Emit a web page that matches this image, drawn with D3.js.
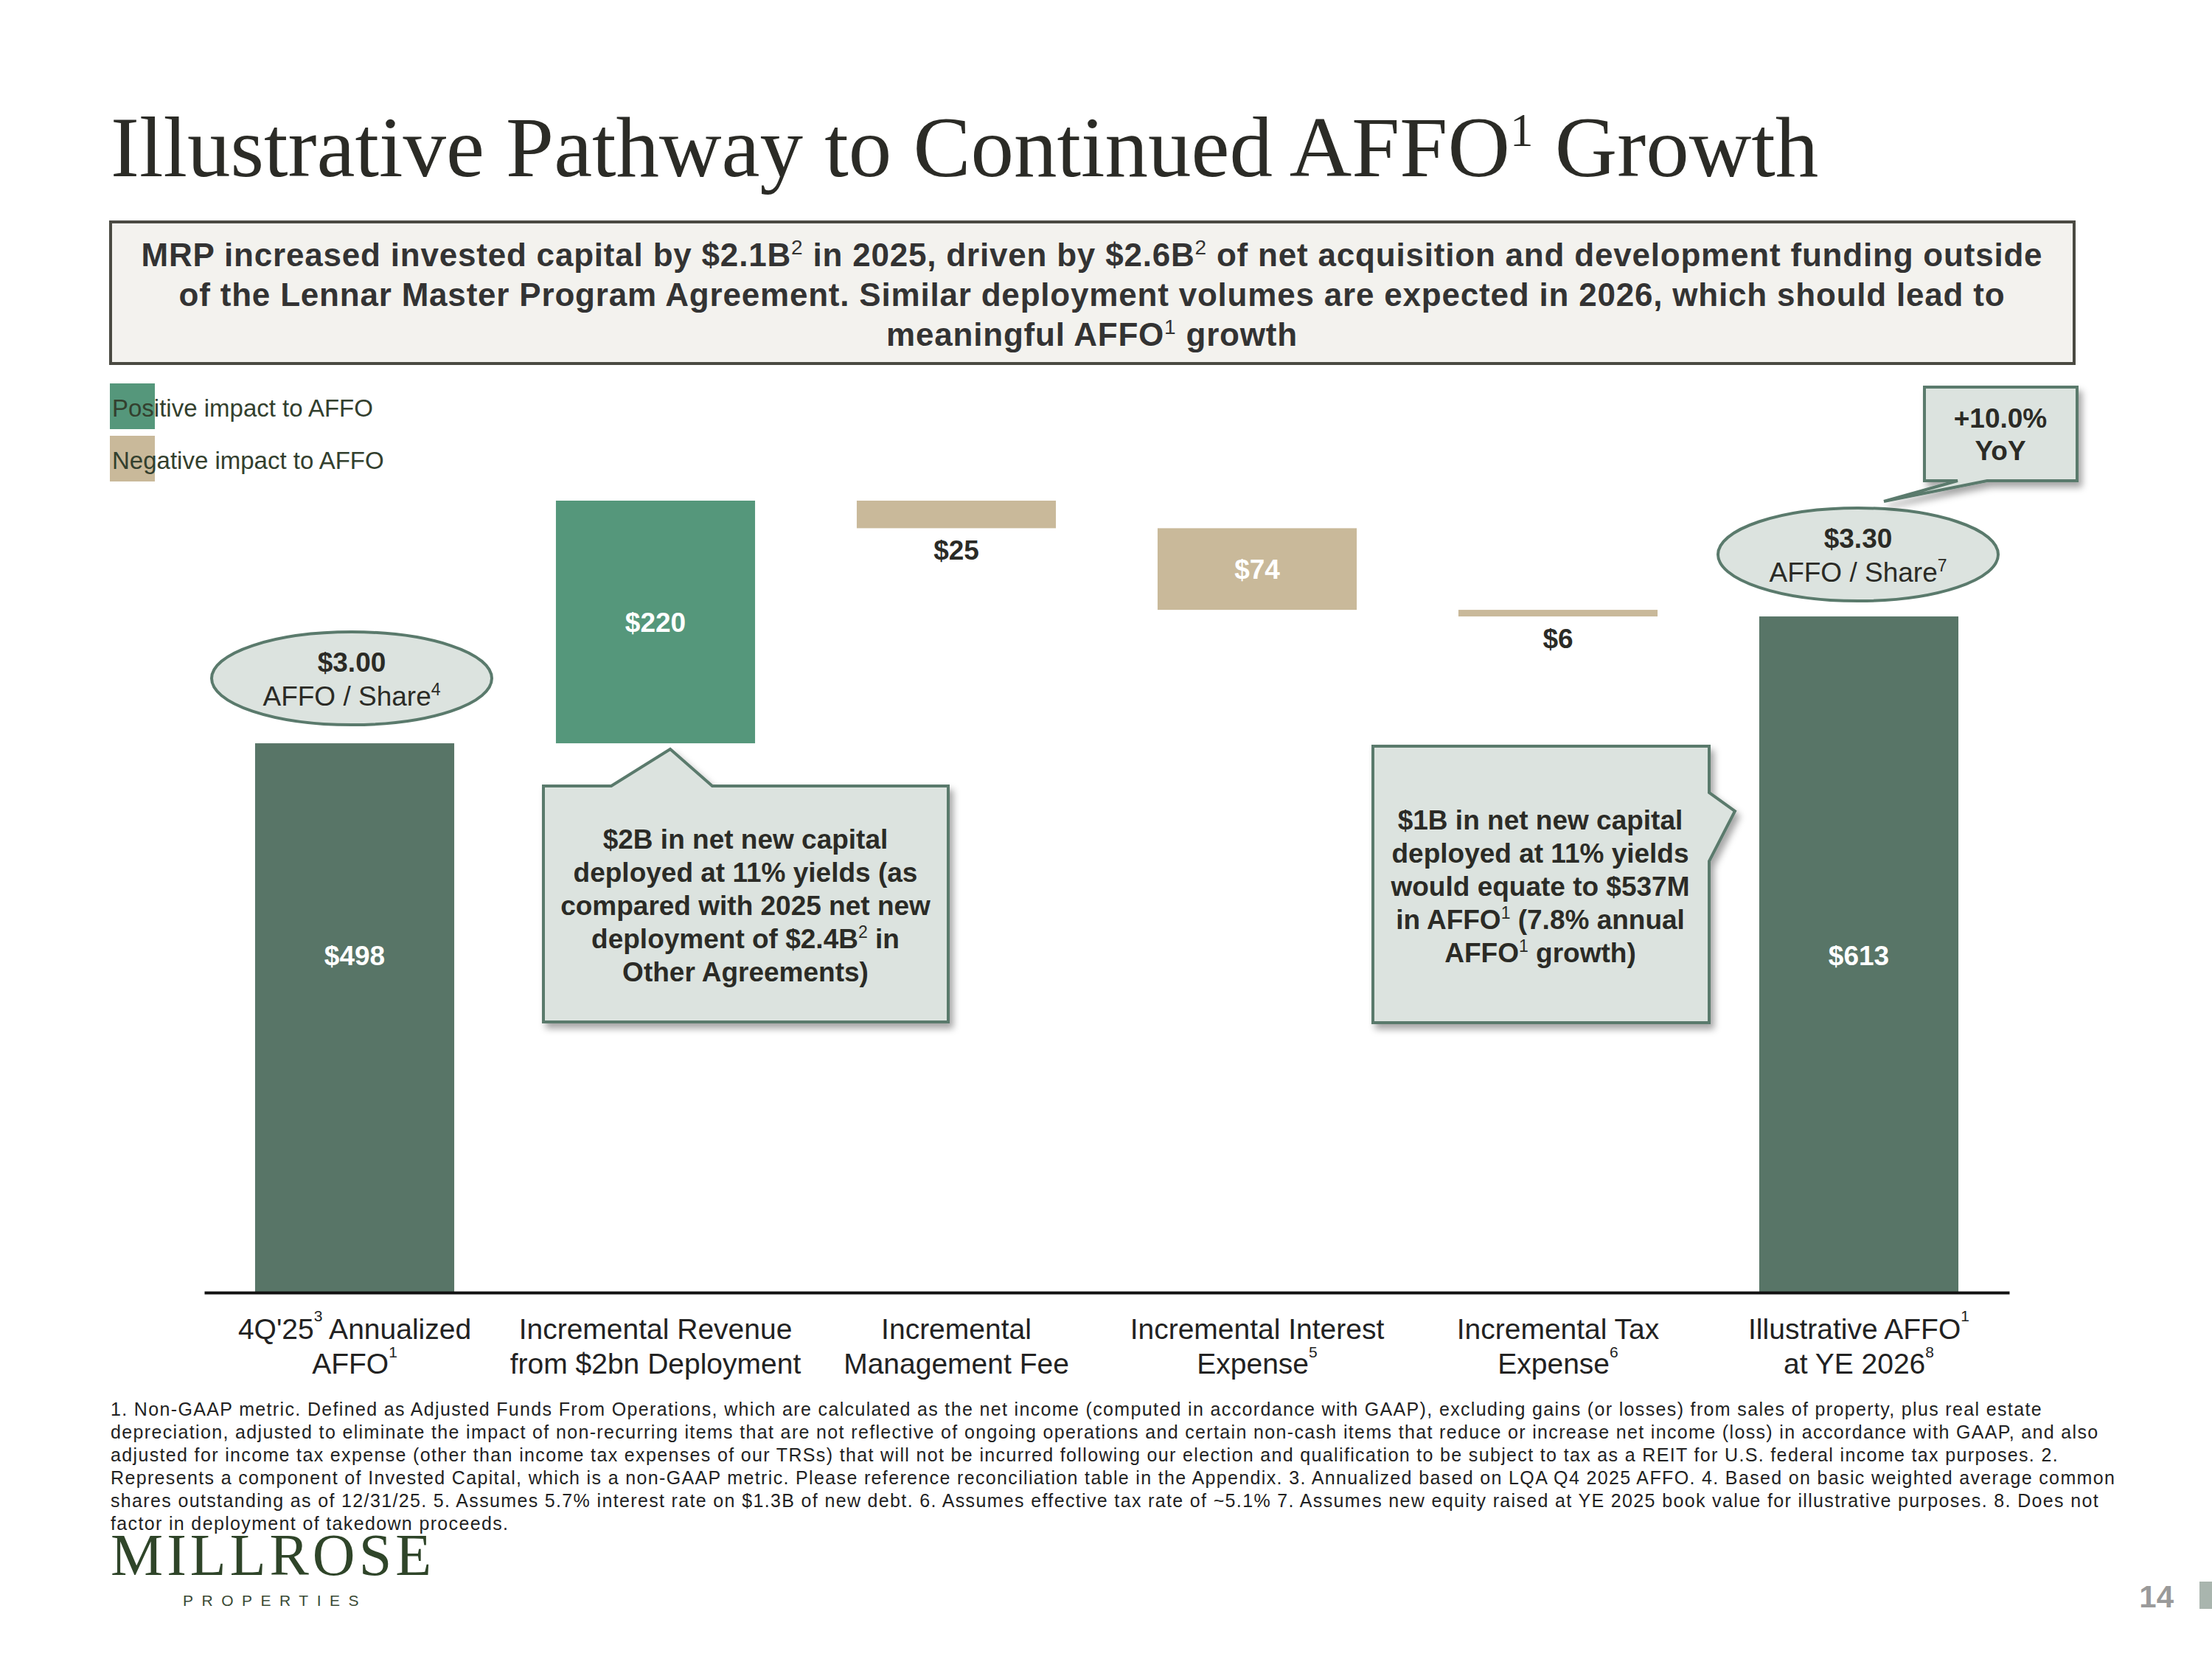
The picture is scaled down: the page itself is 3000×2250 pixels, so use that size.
<!DOCTYPE html>
<html><head><meta charset="utf-8">
<script src="https://cdn.jsdelivr.net/npm/d3@7"></script>
<style>body{margin:0;background:#fff;} svg{display:block;}</style>
</head><body>
<svg id="chart" width="3000" height="2250"></svg>
<script>
// ---------- DATA ----------
const categories = ["affo25", "revenue", "mgmtFee", "interest", "tax", "affo26"];
const catLine1 = ["4Q'25^3 Annualized", "Incremental Revenue", "Incremental", "Incremental Interest", "Incremental Tax", "Illustrative AFFO^1"];
const catLine2 = ["AFFO^1", "from $2bn Deployment", "Management Fee", "Expense^5", "Expense^6", "at YE 2026^8"];
const values = [498, 220, -25, -74, -6, 613];
const kinds = ["total", "pos", "neg", "neg", "neg", "total"];
const valueLabels = ["$498", "$220", "$25", "$74", "$6", "$613"];
const perShare = ["$3.00", "$3.30"];
const perShareNote = ["AFFO / Share^4", "AFFO / Share^7"];
const yoyText = ["+10.0%", "YoY"];
const legendLabels = ["Positive impact to AFFO", "Negative impact to AFFO"];
const titleText = "Illustrative Pathway to Continued AFFO^1 Growth";
const headline = [
  "MRP increased invested capital by $2.1B^2 in 2025, driven by $2.6B^2 of net acquisition and development funding outside",
  "of the Lennar Master Program Agreement. Similar deployment volumes are expected in 2026, which should lead to",
  "meaningful AFFO^1 growth"
];
const callout1 = ["$2B in net new capital", "deployed at 11% yields (as", "compared with 2025 net new", "deployment of $2.4B^2 in", "Other Agreements)"];
const callout2 = ["$1B in net new capital", "deployed at 11% yields", "would equate to $537M", "in AFFO^1 (7.8% annual", "AFFO^1 growth)"];
const footnotes = [
  "1. Non-GAAP metric. Defined as Adjusted Funds From Operations, which are calculated as the net income (computed in accordance with GAAP), excluding gains (or losses) from sales of property, plus real estate",
  "depreciation, adjusted to eliminate the impact of non-recurring items that are not reflective of ongoing operations and certain non-cash items that reduce or increase net income (loss) in accordance with GAAP, and also",
  "adjusted for income tax expense (other than income tax expenses of our TRSs) that will not be incurred following our election and qualification to be subject to tax as a REIT for U.S. federal income tax purposes. 2.",
  "Represents a component of Invested Capital, which is a non-GAAP metric. Please reference reconciliation table in the Appendix. 3. Annualized based on LQA Q4 2025 AFFO. 4. Based on basic weighted average common",
  "shares outstanding as of 12/31/25. 5. Assumes 5.7% interest rate on $1.3B of new debt. 6. Assumes effective tax rate of ~5.1% 7. Assumes new equity raised at YE 2025 book value for illustrative purposes. 8. Does not",
  "factor in deployment of takedown proceeds."
];

// ---------- STYLE ----------
const SANS = "'Liberation Sans', Arial, Helvetica, sans-serif";
const SERIF = "'Liberation Serif', 'Times New Roman', serif";
const C = {
  total: "#587567", pos: "#55977b", neg: "#c9b99a",
  text: "#2b2b26", calloutFill: "#dce3df", calloutStroke: "#5a7a6c",
  boxFill: "#f3f2ee", boxStroke: "#4a4a42", legendText: "#33402e", logo: "#2f4529"
};

const svg = d3.select("#chart");
const defs = svg.append("defs");
const f = defs.append("filter").attr("id", "shadow").attr("x", "-10%").attr("y", "-10%").attr("width", "130%").attr("height", "130%");
f.append("feDropShadow").attr("dx", 5).attr("dy", 7).attr("stdDeviation", 5).attr("flood-color", "#000").attr("flood-opacity", 0.35);

// rich text with ^n superscripts
function rich(sel, str, supSize, supRise) {
  const parts = str.split(/(\^\d)/).filter(p => p.length);
  let raised = false;
  parts.forEach(p => {
    if (p[0] === "^") {
      sel.append("tspan").attr("font-size", supSize).attr("dy", -supRise).attr("font-weight", "normal").text(p.slice(1));
      raised = true;
    } else {
      const t = sel.append("tspan").text(p);
      if (raised) { t.attr("dy", supRise); raised = false; }
    }
  });
  return sel;
}

// ---------- TITLE ----------
rich(svg.append("text").attr("x", 150).attr("y", 239)
  .attr("font-family", SERIF).attr("font-size", 117).attr("fill", C.text), titleText, 63, 41);

// headline box
svg.append("rect").attr("x", 150).attr("y", 301).attr("width", 2663).attr("height", 192)
  .attr("fill", C.boxFill).attr("stroke", C.boxStroke).attr("stroke-width", 4);
headline.forEach((l, i) => {
  rich(svg.append("text").attr("x", 1481).attr("y", 361 + i * 54).attr("text-anchor", "middle")
    .attr("font-family", SANS).attr("font-weight", "bold").attr("font-size", 44).attr("letter-spacing", 0.8)
    .attr("fill", "#333"), l, 28, 16);
});

// legend
legendLabels.forEach((l, i) => {
  svg.append("rect").attr("x", 149).attr("y", 520 + i * 71).attr("width", 61).attr("height", 62)
    .attr("fill", i === 0 ? C.pos : C.neg);
  svg.append("text").attr("x", 152).attr("y", 565 + i * 71).attr("font-family", SANS)
    .attr("font-size", 33).attr("fill", C.legendText).text(l);
});

// ---------- CHART ----------
const x = d3.scaleBand().domain(categories).range([277, 2725]).paddingInner(0.338).paddingOuter(0.169);
const y = d3.scaleLinear().domain([0, 720]).range([1753, 676]);

let cum = 0;
const bars = values.map((v, i) => {
  let y0, y1;
  if (kinds[i] === "total") { y0 = 0; y1 = v; cum = v; }
  else { y0 = cum; y1 = cum + v; cum += v; }
  return { cat: categories[i], v, kind: kinds[i], lo: Math.min(y0, y1), hi: Math.max(y0, y1), label: valueLabels[i] };
});

svg.append("g").selectAll("rect").data(bars).join("rect")
  .attr("x", d => x(d.cat)).attr("width", x.bandwidth())
  .attr("y", d => y(d.hi)).attr("height", d => Math.max(y(d.lo) - y(d.hi), 1))
  .attr("fill", d => C[d.kind]);

// axis baseline
const axisG = svg.append("g").attr("transform", `translate(0,${y(0)})`)
  .call(d3.axisBottom(x).tickSize(0).tickSizeOuter(0).tickFormat(""));
axisG.select(".domain").attr("stroke", "#111").attr("stroke-width", 4);

// value labels
const lastTotal = values[values.length - 1];
svg.append("g").selectAll("text").data(bars).join("text")
  .attr("x", d => x(d.cat) + x.bandwidth() / 2)
  .attr("y", d => {
    if (d.kind === "total") return y(lastTotal / 2) + 14;
    if (Math.abs(d.v) < 40) return y(d.lo) + 43;
    return (y(d.lo) + y(d.hi)) / 2 + 13;
  })
  .attr("text-anchor", "middle").attr("font-family", SANS).attr("font-weight", "bold").attr("font-size", 37)
  .attr("fill", d => (d.kind === "total" || Math.abs(d.v) >= 40) ? "#fff" : C.text)
  .text(d => d.label);

// category labels
categories.forEach((c, i) => {
  const cx = x(c) + x.bandwidth() / 2;
  rich(svg.append("text").attr("x", cx).attr("y", 1816).attr("text-anchor", "middle")
    .attr("font-family", SANS).attr("font-size", 39).attr("fill", "#222"), catLine1[i], 21, 24);
  rich(svg.append("text").attr("x", cx).attr("y", 1863).attr("text-anchor", "middle")
    .attr("font-family", SANS).attr("font-size", 39).attr("fill", "#222"), catLine2[i], 21, 22);
});

// per-share ellipses
const firstCx = x(categories[0]) + x.bandwidth() / 2;
const lastCx = x(categories[5]) + x.bandwidth() / 2;
const ell = [
  { cx: firstCx - 4, cy: y(values[0]) - 88 },
  { cx: lastCx - 1, cy: y(lastTotal) - 84 }
];
ell.forEach((e, i) => {
  svg.append("ellipse").attr("cx", e.cx).attr("cy", e.cy).attr("rx", 190).attr("ry", 63)
    .attr("fill", C.calloutFill).attr("stroke", C.calloutStroke).attr("stroke-width", 4);
  svg.append("text").attr("x", e.cx).attr("y", e.cy - 9).attr("text-anchor", "middle")
    .attr("font-family", SANS).attr("font-weight", "bold").attr("font-size", 37).attr("fill", C.text).text(perShare[i]);
  rich(svg.append("text").attr("x", e.cx).attr("y", e.cy + 37).attr("text-anchor", "middle")
    .attr("font-family", SANS).attr("font-size", 37).attr("fill", C.text), perShareNote[i], 23, 14);
});

// YoY callout
svg.append("path").attr("d", "M2610,525 L2817,525 L2817,652 L2695,652 L2555,680 L2655,652 L2610,652 Z")
  .attr("fill", C.calloutFill).attr("stroke", C.calloutStroke).attr("stroke-width", 4).attr("filter", "url(#shadow)");
yoyText.forEach((t, i) => {
  svg.append("text").attr("x", 2713).attr("y", 580 + i * 44).attr("text-anchor", "middle")
    .attr("font-family", SANS).attr("font-weight", "bold").attr("font-size", 37).attr("fill", C.text).text(t);
});

// callout 1
svg.append("path").attr("d", "M737,1066 L829,1066 L909,1016 L966,1066 L1286,1066 L1286,1386 L737,1386 Z")
  .attr("fill", C.calloutFill).attr("stroke", C.calloutStroke).attr("stroke-width", 4).attr("filter", "url(#shadow)");
callout1.forEach((l, i) => {
  rich(svg.append("text").attr("x", 1011).attr("y", 1151 + i * 45).attr("text-anchor", "middle")
    .attr("font-family", SANS).attr("font-weight", "bold").attr("font-size", 37).attr("fill", C.text), l, 23, 14);
});

// callout 2
svg.append("path").attr("d", "M1862,1012 L2318,1012 L2318,1075 L2353,1100 L2318,1168 L2318,1387 L1862,1387 Z")
  .attr("fill", C.calloutFill).attr("stroke", C.calloutStroke).attr("stroke-width", 4).attr("filter", "url(#shadow)");
callout2.forEach((l, i) => {
  rich(svg.append("text").attr("x", 2089).attr("y", 1125 + i * 45).attr("text-anchor", "middle")
    .attr("font-family", SANS).attr("font-weight", "bold").attr("font-size", 37).attr("fill", C.text), l, 23, 14);
});

// footnotes
footnotes.forEach((l, i) => {
  svg.append("text").attr("x", 150).attr("y", 1920 + i * 31)
    .attr("font-family", SANS).attr("font-size", 25).attr("letter-spacing", 1.35).attr("fill", "#222").text(l);
});

// logo
svg.append("text").attr("x", 150).attr("y", 2136).attr("font-family", SERIF).attr("font-size", 80)
  .attr("letter-spacing", 5).attr("fill", C.logo).text("MILLROSE");
svg.append("text").attr("x", 248).attr("y", 2178).attr("font-family", SANS).attr("font-size", 21)
  .attr("letter-spacing", 11.5).attr("fill", "#3a4a35").text("PROPERTIES");

// page number
svg.append("text").attr("x", 2948).attr("y", 2180).attr("text-anchor", "end").attr("font-family", SANS)
  .attr("font-weight", "bold").attr("font-size", 42).attr("fill", "#9a9a9a").text("14");
svg.append("rect").attr("x", 2983).attr("y", 2145).attr("width", 17).attr("height", 37).attr("fill", "#a9b5ae");
</script>
</body></html>
